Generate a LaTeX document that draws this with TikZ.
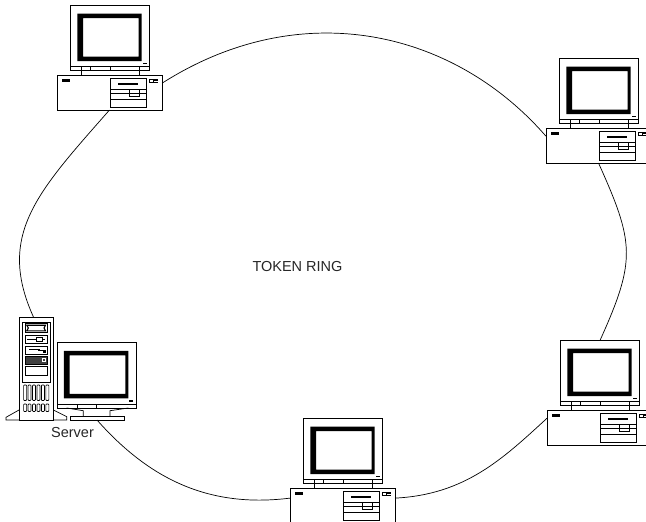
\documentclass[tikz,border=0pt]{standalone}
\usepackage{fontspec}
\setmainfont{Liberation Sans}
\begin{document}
\begin{tikzpicture}[x=1pt,y=-1pt,
  outline/.style={draw=black, line width=0.7pt},
  box/.style={outline, fill=white, rectangle, inner sep=0pt, outer sep=0pt},
  ring/.style={draw=black, line width=0.7pt},
  label/.style={font=\fontsize{14.5}{17}\selectfont, inner sep=0pt, text=black!85},
  % CRT monitor, origin at the top-left corner of its housing
  monitor/.pic={
    \node[box, minimum width=79pt, minimum height=61.7pt] (-body) at (39.5,30.85) {};
    \draw[outline, fill=white] (0,61.7) rectangle (79,65.7);
    \draw[outline] (20,61.7) -- (20,65.7) (39.3,61.7) -- (39.3,65.7);
    \fill[even odd rule] (6.6,8.5) rectangle (71,56) (12.3,13) rectangle (68,51.5);
    \fill (72,57.5) rectangle (76,59.3);
  },
  % desktop PC, origin at the top-left corner of the case
  desktop/.pic={
    \node[box, minimum width=105pt, minimum height=35pt] (-case) at (52.5,17.5) {};
    \pic (-m) at (13.7,-70) {monitor};
    \draw[outline] (24.7,-8.3) -- (24.7,0) (82.3,-8.3) -- (82.3,0);
    \fill (4.7,4) rectangle (13,6.7);
    \draw[outline] (53,3.3) rectangle (89,32.3);
    \fill (61.3,7.5) rectangle (81.3,9.5);
    \draw[outline] (53,14.5) -- (89,14.5) (53,18) -- (89,18) (53,24) -- (89,24);
    \draw[outline] (72,14.5) rectangle (82,21.5);
    \draw[outline, line width=0.5pt] (92.5,4) rectangle (96,7.5);
    \fill (97,4) rectangle (100.5,7.5);
    \draw[white, line width=0.4pt] (97,5.75) -- (100.5,5.75);
  },
  % tower server with its own monitor, drawn in absolute coordinates
  server/.pic={
    \draw[outline, fill=white] (19,410) -- (6,417.3) -- (6,420) -- (19,420);
    \draw[outline, fill=white] (53.3,410) -- (66.7,416.7) -- (66.7,420) -- (53.3,420);
    \node[box, minimum width=34.3pt, minimum height=103.3pt] (-tower) at (36.15,368.65) {};
    \draw[outline] (22.7,322) rectangle (50,382);
    % drive bays
    \draw[outline] (25,323.3) rectangle (47.3,332.7);
    \draw[line width=1.1pt] (26.8,325.2) -- (45.5,325.2) -- (44,328) -- (45.5,330.8) -- (26.8,330.8) -- (28.3,328) -- cycle;
    \draw[outline] (25,335) rectangle (47.3,343.3);
    \draw[outline] (27,339.2) -- (45,339.2);
    \draw[outline, fill=white] (36,337) rectangle (42,341.5);
    \draw[outline] (25,346) rectangle (47.3,354);
    \fill (29,348.6) rectangle (40,350.2);
    \draw[outline] (38,350.6) -- (45.5,350.6);
    \fill (43,351) rectangle (45.5,353);
    \draw[outline, fill=black!75] (25,356) rectangle (47.3,364);
    \draw[white, line width=0.5pt] (42.5,358.3) rectangle (45.3,361.5);
    \draw[outline] (25,366.7) rectangle (47.3,375);
    % ventilation slots
    \foreach \i in {0,...,5} {
      \draw[outline, rounded corners=0.8pt] (23.6+\i*4.45,385) rectangle ++(3,15.5);
      \draw[outline, rounded corners=0.8pt] (23.6+\i*4.45,404) rectangle ++(3,7.5);
    }
    % monitor and stand
    \pic (-m) at (57.3,342.3) {monitor};
    \draw[outline] (66.7,408) -- (83.3,410.7) -- (83.3,416);
    \draw[outline] (128.3,408) -- (110,410.7) -- (110,416);
    \node[box, minimum width=54pt, minimum height=4pt] (-base) at (97,418) {};
  }
]
\useasboundingbox (0,0) rectangle (646,522);
\clip (0,0) rectangle (646,522);

\pic (pc1) at (57,75) {desktop};
\pic (pc2) at (546,128) {desktop};
\pic (pc3) at (547,410) {desktop};
\pic (pc4) at (290,488) {desktop};
\pic (srv) at (0,0) {server};

\node[label] (title) at (297.5,266.7) {TOKEN RING};
\node[label] (srvlabel) at (72.5,432.5) {Server};

% the ring, segment by segment
\draw[ring] (pc1-case.10) .. controls +(138,-88) and +(-93,-107) .. (pc2-case.170);
\draw[ring] (pc2-case.south) .. controls +(36,80) and +(36,-80) .. (pc3-m-body.north);
\draw[ring] (pc3-case.170) .. controls +(-44.4,40.8) and +(70,-3.5) .. (pc4-case.8);
\draw[ring] (pc4-case.172) .. controls +(-80,10) and +(53,60) .. (srv-base.south);
\draw[ring] (srv-tower.93) .. controls +(-37,-82) and +(-72.6,82.5) .. (pc1-case.south);
\end{tikzpicture}
\end{document}
